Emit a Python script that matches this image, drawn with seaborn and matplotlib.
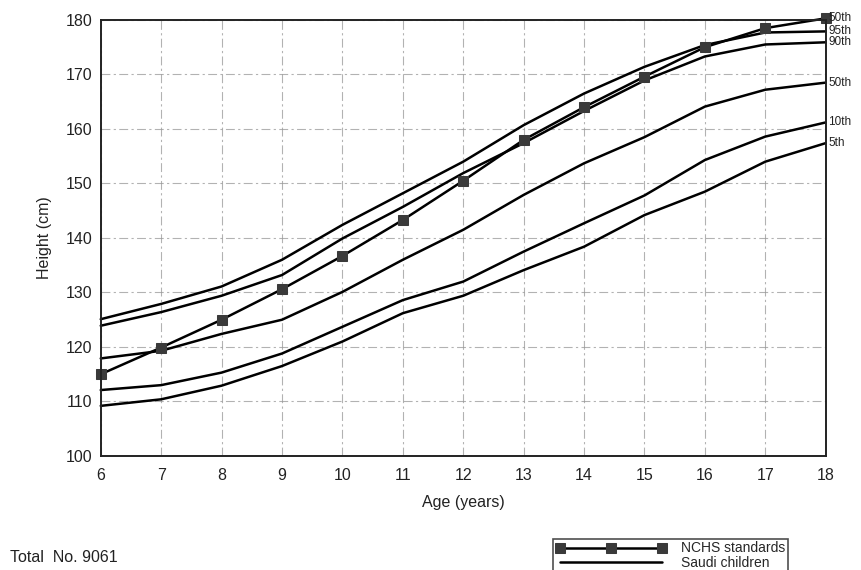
import numpy as np
import pandas as pd
import matplotlib
matplotlib.use("Agg")
import matplotlib.pyplot as plt
import seaborn as sns

ages = [6, 7, 8, 9, 10, 11, 12, 13, 14, 15, 16, 17, 18]
nchs_50 = [115.0, 119.9, 125.0, 130.6, 136.7, 143.3, 150.5, 158.0, 164.0, 169.6, 175.0, 178.5, 180.3]
saudi_95 = [125.1, 127.9, 131.1, 136.0, 142.4, 148.2, 154.0, 160.7, 166.5, 171.4, 175.4, 177.7, 177.9]
saudi_90 = [123.9, 126.4, 129.4, 133.2, 139.9, 145.7, 151.9, 157.4, 163.3, 168.9, 173.3, 175.5, 175.9]
saudi_50 = [117.9, 119.3, 122.4, 125.0, 130.1, 136.0, 141.5, 147.9, 153.7, 158.5, 164.1, 167.2, 168.5]
saudi_10 = [112.1, 113.0, 115.3, 118.8, 123.7, 128.6, 132.0, 137.5, 142.7, 147.8, 154.3, 158.6, 161.2]
saudi_5 = [109.2, 110.4, 112.9, 116.5, 121.0, 126.2, 129.4, 134.1, 138.4, 144.2, 148.5, 154.0, 157.4]
saudi_labels = ["95th", "90th", "50th", "10th", "5th"]
nchs_label = "50th"
x_ticks = [6, 7, 8, 9, 10, 11, 12, 13, 14, 15, 16, 17, 18]
y_ticks = [100, 110, 120, 130, 140, 150, 160, 170, 180]

sns.set_style("white")
plt.rcParams["font.family"] = ["Liberation Sans", "DejaVu Sans"]

fig = plt.figure(figsize=(8.61, 5.70), dpi=100)
ax = fig.add_axes([0.117, 0.2, 0.842, 0.765])

saudi_series = [saudi_95, saudi_90, saudi_50, saudi_10, saudi_5]
for i, s in enumerate(saudi_series):
    sns.lineplot(x=ages, y=s, ax=ax, color="black", lw=1.8,
                 label="Saudi children" if i == 0 else None, legend=False)
sns.lineplot(x=ages, y=nchs_50, ax=ax, color="black", lw=1.8, marker="s",
             markersize=7, markerfacecolor="#3a3a3a", markeredgecolor="#3a3a3a",
             label="NCHS standards", legend=False)
for ln in ax.lines:
    ln.set_clip_on(False)

ax.set_xlim(6, 18)
ax.set_ylim(100, 180)
ax.set_xticks(x_ticks)
ax.set_yticks(y_ticks)
ax.tick_params(axis="both", length=0, labelsize=11.5, colors="#222")
ax.tick_params(axis="x", pad=9)
ax.tick_params(axis="y", pad=6)
ax.grid(True, color="#999", lw=0.8, linestyle=(0, (8, 3, 2, 3)), alpha=0.75)
for sp in ax.spines.values():
    sp.set_visible(True)
    sp.set_color("#222")
    sp.set_linewidth(1.4)

ax.set_xlabel("Age (years)", fontsize=11.5, color="#222", labelpad=8)
ax.set_ylabel("Height (cm)", fontsize=11.5, color="#222", labelpad=10)

# right-side percentile labels
ax.annotate(nchs_label, xy=(18, nchs_50[-1]), xytext=(2, 0), textcoords="offset points",
            va="center", ha="left", fontsize=8.5, color="#222", annotation_clip=False)
for lab, s in zip(saudi_labels, saudi_series):
    ax.annotate(lab, xy=(18, s[-1]), xytext=(2, 0), textcoords="offset points",
                va="center", ha="left", fontsize=8.5, color="#222", annotation_clip=False)

h_lines = {ln.get_label(): ln for ln in ax.lines}
handles = [h_lines["NCHS standards"], h_lines["Saudi children"]]
leg = fig.legend(handles, ["NCHS standards", "Saudi children"], loc="upper left",
                 bbox_to_anchor=(0.642, 0.055), bbox_transform=fig.transFigure,
                 fontsize=10, numpoints=3, handlelength=8, frameon=True, fancybox=False,
                 edgecolor="#222", borderpad=0.2, labelspacing=0.05, handletextpad=1.0,
                 borderaxespad=0)
leg.get_frame().set_linewidth(1.2)

fig.text(0.012, 1 - 558 / 570, "Total  No. 9061", fontsize=11.5, color="#222", va="center")

fig.savefig("out.png", dpi=100)
